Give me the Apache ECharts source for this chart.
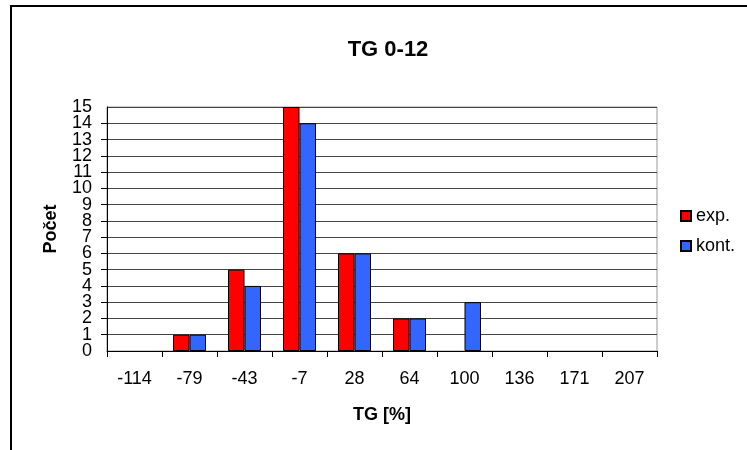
<!DOCTYPE html>
<html>
<head>
<meta charset="utf-8">
<script src="https://cdn.jsdelivr.net/npm/echarts@6/dist/echarts.min.js"></script>
<style>
  html, body { margin: 0; padding: 0; background: #fff; }
  #chart { width: 747px; height: 450px; }
</style>
</head>
<body>
<div id="chart"></div>
<script>
// TG class midpoints (%)
const categories = ['-114', '-79', '-43', '-7', '28', '64', '100', '136', '171', '207'];
// counts per class
const expValues = [0, 1, 5, 15, 6, 2, 0, 0, 0, 0];
const kontValues = [0, 1, 4, 14, 6, 2, 3, 0, 0, 0];
const seriesNames = ['exp.', 'kont.'];
// count axis range
const countMin = 0;
const countMax = 15;

const FONT = '"Liberation Sans", Arial, sans-serif';

// empty classes get no outline, so nothing is drawn for them
function barItems(values) {
  return values.map(v => v === 0 ? { value: v, itemStyle: { borderWidth: 0, opacity: 0 } } : v);
}

const yLabelStyle = { fontFamily: FONT, fontSize: 18, color: '#000', margin: 15 };

const chart = echarts.init(document.getElementById('chart'), null, { renderer: 'canvas' });

chart.setOption({
  backgroundColor: '#ffffff',
  animation: false,
  textStyle: { fontFamily: FONT, color: '#000' },
  title: {
    text: 'TG 0-12',
    left: 383,
    textAlign: 'center',
    top: 34,
    textStyle: { fontFamily: FONT, fontSize: 22, fontWeight: 'bold', color: '#000' }
  },
  graphic: [
    {
      type: 'rect',
      shape: { x: 11, y: 6, width: 800, height: 500 },
      style: { fill: null, stroke: '#000', lineWidth: 2 },
      silent: true,
      z: -1
    }
  ],
  legend: {
    orient: 'vertical',
    left: 680,
    top: 207,
    padding: 0,
    itemWidth: 10,
    itemHeight: 10,
    itemGap: 12,
    icon: 'rect',
    data: seriesNames,
    textStyle: { fontFamily: FONT, fontSize: 18, color: '#000' }
  },
  grid: {
    left: 107,
    right: 90,
    top: 107,
    bottom: 99,
    show: true,
    borderColor: '#999',
    borderWidth: 1
  },
  xAxis: {
    type: 'category',
    data: categories,
    name: 'TG [%]',
    nameLocation: 'middle',
    nameGap: 55,
    nameTextStyle: { fontFamily: FONT, fontSize: 18, fontWeight: 'bold', color: '#000' },
    axisLine: { lineStyle: { color: '#000', width: 1 } },
    axisTick: { show: true, alignWithLabel: false, length: 6, lineStyle: { color: '#000' } },
    axisLabel: { fontFamily: FONT, fontSize: 18, color: '#000', margin: 19 },
    splitLine: { show: false }
  },
  yAxis: [
    {
      // main count axis: line, ticks, grid lines and the inner labels 1..14
      type: 'value',
      min: countMin,
      max: countMax,
      interval: 1,
      name: 'Počet',
      nameLocation: 'middle',
      nameGap: 47,
      nameRotate: 90,
      nameTextStyle: { fontFamily: FONT, fontSize: 18, fontWeight: 'bold', color: '#000' },
      axisLine: { show: true, lineStyle: { color: '#000', width: 1 } },
      axisTick: { show: true, length: 6, lineStyle: { color: '#000' } },
      axisLabel: Object.assign({ showMinLabel: false, showMaxLabel: false }, yLabelStyle),
      splitLine: { show: true, lineStyle: { color: '#444', width: 1 } }
    },
    {
      // end labels 0 and 15 of the same scale
      type: 'value',
      position: 'left',
      offset: 0,
      min: countMin,
      max: countMax,
      interval: countMax - countMin,
      axisLine: { show: false },
      axisTick: { show: false },
      splitLine: { show: false },
      axisLabel: yLabelStyle
    }
  ],
  series: [
    {
      name: seriesNames[0],
      type: 'bar',
      data: barItems(expValues),
      barGap: '0%',
      barCategoryGap: '40%',
      itemStyle: { color: '#ff0000', borderColor: '#000', borderWidth: 1 }
    },
    {
      name: seriesNames[1],
      type: 'bar',
      data: barItems(kontValues),
      itemStyle: { color: '#3366ff', borderColor: '#000', borderWidth: 1 }
    }
  ]
});
</script>
</body>
</html>
